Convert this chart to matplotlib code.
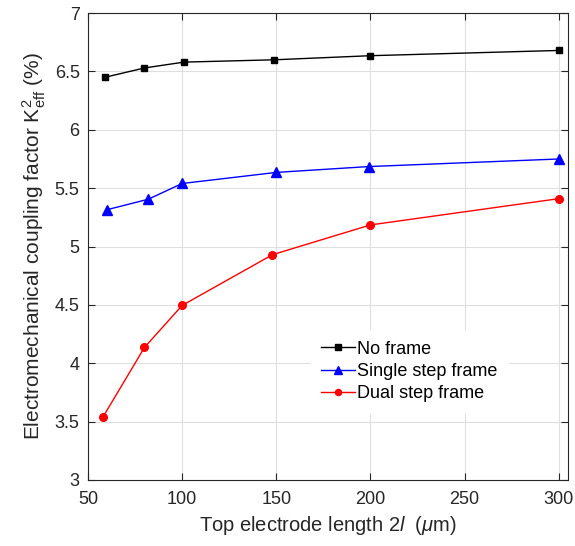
import numpy as np
import matplotlib
matplotlib.use("Agg")
import matplotlib.pyplot as plt

plt.rcParams["font.family"] = ["Liberation Sans", "DejaVu Sans"]
plt.rcParams["mathtext.fontset"] = "custom"
plt.rcParams["mathtext.rm"] = "Liberation Sans"
plt.rcParams["mathtext.it"] = "Liberation Sans:italic"

# data
x_none = [59, 80, 101, 149, 200, 300]
k_none = [6.45, 6.53, 6.58, 6.60, 6.635, 6.68]
x_single = [60, 82, 100, 150, 199, 300]
k_single = [5.315, 5.405, 5.54, 5.635, 5.685, 5.75]
x_dual = [58, 80, 100, 148, 200, 300]
k_dual = [3.54, 4.135, 4.495, 4.93, 5.185, 5.41]

xticks = [50, 100, 150, 200, 250, 300]
yticks = [3, 3.5, 4, 4.5, 5, 5.5, 6, 6.5, 7]

dark = "#262626"

fig = plt.figure(figsize=(5.75, 5.46), dpi=100)
ax = fig.add_axes([0.153, 0.121, 0.835, 0.855])

ax.plot(x_none, k_none, color="black", lw=1.0, marker="s", ms=5, label="No frame")
ax.plot(x_single, k_single, color="blue", lw=1.0, marker="^", ms=6.5,
        label="Single step frame")
ax.plot(x_dual, k_dual, color="red", lw=1.0, marker="o", ms=5.5,
        label="Dual step frame")

ax.set_xlim(50, 305)
ax.set_ylim(3, 7)
ax.set_xticks(xticks)
ax.set_yticks(yticks)
ax.set_yticklabels([f"{v:g}" for v in yticks])
ax.grid(True, color="#dfdfdf", lw=0.8)
ax.set_axisbelow(True)
ax.tick_params(direction="in", top=True, right=True, length=5, width=0.8,
               labelsize=13, colors=dark, labelcolor=dark)
ax.tick_params(axis="x", pad=8)
ax.tick_params(axis="y", pad=6)
for s in ax.spines.values():
    s.set_color(dark)
    s.set_linewidth(0.8)

ax.set_xlabel(r"Top electrode length 2$l$  ($\mu$m)", fontsize=14.5, color=dark,
              labelpad=4)
ax.set_ylabel(r"Electromechanical coupling factor $\mathregular{K_{eff}^2}$ (%)",
              fontsize=15, color=dark, labelpad=5)

leg = ax.legend(loc="upper left", bbox_to_anchor=(0.475, 0.31), fontsize=13,
                handlelength=1.85, handletextpad=0.1, labelspacing=0.3,
                markerscale=0.8,
                frameon=True, framealpha=1.0, borderaxespad=0, borderpad=0.3)
leg.get_frame().set_edgecolor("white")
leg.get_frame().set_boxstyle("square")

fig.savefig("out.png", dpi=100)
print("saved: out.png")
